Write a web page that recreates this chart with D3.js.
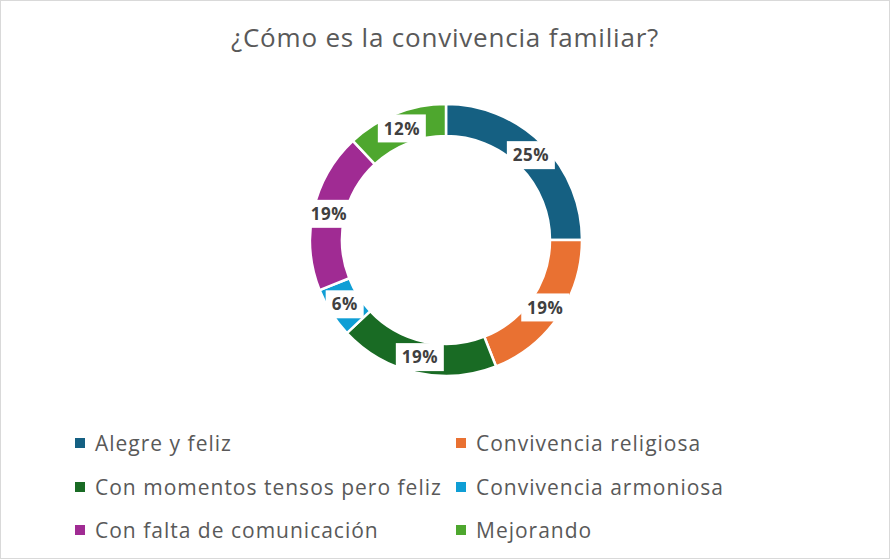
<!DOCTYPE html>
<html>
<head>
<meta charset="utf-8">
<script src="https://cdn.jsdelivr.net/npm/d3@7"></script>
<style>
  body { margin: 0; background: #fff; }
  svg { display: block; font-family: "Open Sans", Roboto, sans-serif; }
</style>
</head>
<body>
<svg id="chart" width="890" height="559"></svg>
<script>
var categories = ["Alegre y feliz", "Convivencia religiosa", "Con momentos tensos pero feliz",
                  "Convivencia armoniosa", "Con falta de comunicación", "Mejorando"];
var values = [25, 19, 19, 6, 19, 12];
var colors = ["#156082", "#E97132", "#196B24", "#0F9ED5", "#A02B93", "#4EA72E"];
var title = "¿Cómo es la convivencia familiar?";

var W = 890, H = 559;
var cx = 446, cy = 240, rOut = 136, rIn = 104;

var svg = d3.select("#chart");

svg.append("rect")
    .attr("x", 0.5).attr("y", 0.5)
    .attr("width", W - 1).attr("height", H - 1)
    .style("fill", "#fff").style("stroke", "#d9d9d9");

svg.append("text")
    .attr("x", W / 2).attr("y", 47)
    .attr("text-anchor", "middle")
    .style("font-size", "26px").style("letter-spacing", "0.8px").style("fill", "#595959")
    .text(title);

var data = categories.map(function(c, i) { return { name: c, value: values[i], color: colors[i] }; });

var pie = d3.pie().sort(null).value(function(d) { return d.value; });
var arc = d3.arc().innerRadius(rIn).outerRadius(rOut);
var labelArc = d3.arc().innerRadius(120).outerRadius(120);

var g = svg.append("g").attr("transform", "translate(" + cx + "," + cy + ")");
var arcs = pie(data);

g.selectAll("path")
    .data(arcs)
    .enter()
    .append("path")
    .attr("d", arc)
    .style("fill", function(d) { return d.data.color; })
    .style("stroke", "#fff")
    .style("stroke-width", 2.5);

var lab = g.selectAll("g.lab")
    .data(arcs)
    .enter()
    .append("g")
    .attr("class", "lab")
    .attr("transform", function(d) { return "translate(" + labelArc.centroid(d) + ")"; });

lab.append("rect")
    .attr("x", function(d) { return d.data.value < 10 ? -19 : -24; })
    .attr("y", -14)
    .attr("width", function(d) { return d.data.value < 10 ? 38 : 48; })
    .attr("height", 28)
    .style("fill", "#fff");

lab.append("text")
    .attr("text-anchor", "middle")
    .attr("dy", "0.36em")
    .style("font-size", "17px").style("letter-spacing", "0.5px")
    .style("font-weight", "bold").style("fill", "#404040")
    .text(function(d) { return d.data.value + "%"; });

// legend: two columns
var colX = [75, 456];
var rowY = [443, 487, 530];
var leg = svg.selectAll("g.leg")
    .data(data)
    .enter()
    .append("g")
    .attr("class", "leg")
    .attr("transform", function(d, i) {
        return "translate(" + colX[i % 2] + "," + rowY[Math.floor(i / 2)] + ")";
    });

leg.append("rect")
    .attr("x", 0).attr("y", -5)
    .attr("width", 10).attr("height", 10)
    .style("fill", function(d) { return d.color; });

leg.append("text")
    .attr("x", 20).attr("dy", "0.36em")
    .style("font-size", "21px").style("letter-spacing", "1px").style("fill", "#595959")
    .text(function(d) { return d.name; });
</script>
</body>
</html>
